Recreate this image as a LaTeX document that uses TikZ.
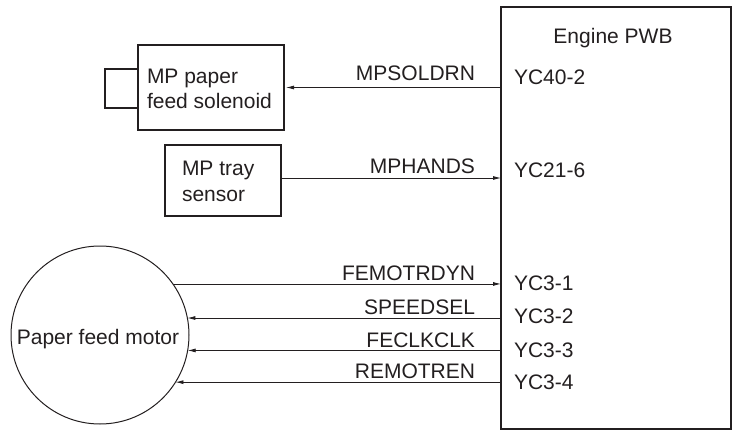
\documentclass[tikz,border=0pt]{standalone}
\usepackage{fontspec}
\setmainfont{Liberation Sans}
\usetikzlibrary{arrows.meta}
\definecolor{ink}{RGB}{35,31,32}
\begin{document}
\begin{tikzpicture}[x=1pt,y=-1pt,
  every node/.style={inner sep=0pt, outer sep=0pt, font=\fontsize{21}{25}\selectfont, text=ink},
  box/.style={draw=ink, line width=1.1pt},
  sig/.style={draw=ink, line width=0.8pt},
  arr/.style={sig, -{Latex[length=8pt,width=4pt]}},
  lbl/.style={anchor=base east},
  pinlbl/.style={anchor=base west},
  txt/.style={anchor=base west, align=left}]
\useasboundingbox (0,0) rectangle (735,430);

% boxes
\node[box, anchor=north west, minimum width=230pt, minimum height=422pt] (pwb) at (501,7) {};
\node[anchor=base] (pwbt) at (613,43.3) {Engine PWB};

\node[box, anchor=north west, minimum width=146pt, minimum height=85pt] (sol) at (138,45) {};
\coordinate (tabA) at (105,69);
\coordinate (tabB) at (105,108);
\draw[box] (sol.west |- tabA) -- (tabA) -- (tabB) -- (sol.west |- tabB);
\node[txt] (solt) at (147,109) {MP paper\\feed solenoid};

\node[box, anchor=north west, minimum width=116pt, minimum height=71pt] (tray) at (165,145) {};
\node[txt] (trayt) at (182,201) {MP tray\\sensor};

\node[draw=ink, line width=1pt, circle, minimum size=178pt] (motor) at (100,335) {};
\node[anchor=base] (motort) at (98,344) {Paper feed motor};

% connector end points on the PWB
\coordinate (p21) at (501,178);

% connectors
\draw[arr, shorten >=2pt] (pwb.west |- sol.east) -- (sol.east);
\draw[arr] (tray.east |- p21) -- (p21);
\draw[arr] (motor.35) -- (motor.35 -| pwb.west);
\draw[arr] (motor.11.7 -| pwb.west) -- (motor.11.7);
\draw[arr] (motor.-10.4 -| pwb.west) -- (motor.-10.4);
\draw[arr] (motor.-32.6 -| pwb.west) -- (motor.-32.6);

% signal labels
\node[lbl] (l1) at (475,80.5) {MPSOLDRN};
\node[lbl] (l2) at (475,174) {MPHANDS};
\node[lbl] (l3) at (475,280.5) {FEMOTRDYN};
\node[lbl] (l4) at (475,314) {SPEEDSEL};
\node[lbl] (l5) at (475,347) {FECLKCLK};
\node[lbl] (l6) at (475,378) {REMOTREN};

% pin labels
\node[pinlbl] (c1) at (514,84.5) {YC40-2};
\node[pinlbl] (c2) at (514,178) {YC21-6};
\node[pinlbl] (c3) at (514,290.5) {YC3-1};
\node[pinlbl] (c4) at (514,323) {YC3-2};
\node[pinlbl] (c5) at (514,357) {YC3-3};
\node[pinlbl] (c6) at (514,389) {YC3-4};
\end{tikzpicture}
\end{document}
